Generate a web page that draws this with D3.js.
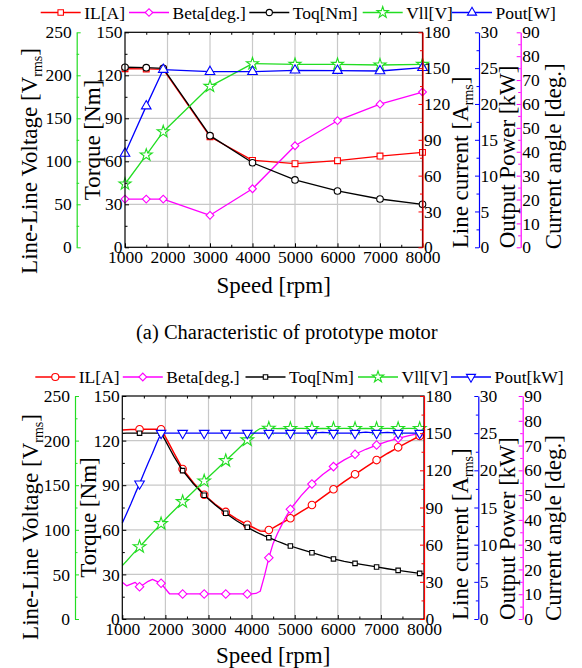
<!DOCTYPE html>
<html><head><meta charset="utf-8">
<script src="https://cdn.jsdelivr.net/npm/d3@7"></script>
<style>
body{margin:0;background:#fff}
svg{display:block}
text{font-family:"Liberation Serif","Times New Roman",serif;fill:#000}
</style>
</head><body>
<svg id="chart" width="582" height="668"></svg>
<script>
// ---------------- DATA ----------------
const speedTicks   = [1000,2000,3000,4000,5000,6000,7000,8000];
const torqueTicks  = [0,30,60,90,120,150];
const voltTicks    = [0,50,100,150,200,250];
const currentTicks = [0,30,60,90,120,150,180];
const powerTicks   = [0,5,10,15,20,25,30];
const angleTicks   = [0,10,20,30,40,50,60,70,80,90];

// (a) prototype motor
const speedA = [1000,1500,1900,3000,4000,5000,6000,7000,8000];
const ilA    = [149.5,149.3,149.0,92.6,72.8,70.0,72.5,76.4,79.5];
const betaA  = [20.2,20.2,20.2,13.4,24.5,42.5,53.0,59.9,65.0];
const toqA   = [125.6,125.3,124.9,77.9,59.0,47.0,39.3,33.7,30.0];
const vllA   = [73.6,107.3,134.4,187.2,213.5,212.8,212.8,212.0,212.8];
const poutA  = [13.1,19.7,24.8,24.5,24.5,24.7,24.65,24.6,25.06];
const namesA = ["IL[A]","Beta[deg.]","Toq[Nm]","Vll[V]","Pout[W]"];

// (b) second chart
const speedB = [1000,1100,1200,1300,1400,1500,1600,1700,1800,1900,2000,2100,2200,
                2400,2650,2900,3150,3400,3650,3900,
                4000,4100,4200,4300,4400,4500,4600,4700,4800,4900,
                5150,5400,5650,5900,6150,6400,6650,6900,7150,7400,7650,7900,8000];
const ilB   = [152.6,152.8,153.0,153.0,153.1,153.1,153.1,153.1,153.1,153.1,147.0,140.5,134.0,
               121.1,110.0,100.3,92.8,86.4,80.8,76.1,
               74.5,72.8,71.0,70.8,71.8,73.6,75.5,77.5,79.4,81.3,
               86.6,92.0,98.3,104.7,110.8,116.8,122.6,128.3,133.6,138.6,143.2,147.7,150.0];
const betaB = [14.8,13.4,14.1,14.8,13.0,14.0,15.2,16.0,15.2,14.4,12.2,10.1,10.1,
               10.1,10.1,10.1,10.1,10.1,10.1,10.1,
               10.1,10.3,11.2,17.5,24.7,30.5,34.5,38.0,41.3,44.3,
               49.8,54.5,58.3,61.5,64.2,66.5,68.5,70.2,71.7,72.9,74.0,74.9,75.4];
const toqB  = [124.8,125.0,125.0,125.0,125.0,125.0,125.0,125.0,125.0,125.0,120.0,114.5,109.2,
               99.8,91.0,83.2,76.8,71.1,66.1,61.7,
               60.1,58.6,57.2,55.9,54.7,53.5,52.3,51.2,50.1,49.1,
               46.8,44.6,42.4,40.4,38.8,37.4,36.2,35.0,33.8,32.7,31.7,30.7,30.4];
const vllB  = [59.8,65.0,70.5,75.8,81.0,86.0,91.3,96.5,101.6,106.8,111.8,116.8,121.6,
               131.5,143.0,154.7,166.0,177.5,189.0,200.7,
               205.5,210.5,213.5,213.8,213.8,213.6,213.5,213.6,213.5,213.5,
               213.6,213.5,213.7,213.5,213.6,213.5,213.7,213.5,213.6,213.5,213.6,213.5,213.6];
const poutB = [12.9,14.2,15.5,16.9,18.2,19.6,21.0,22.3,23.7,25.0,25.0,25.0,25.0,
               25.0,25.0,25.0,25.0,25.0,25.0,25.0,
               25.0,25.0,25.0,25.0,25.0,25.0,25.0,25.0,25.0,25.0,
               25.0,25.0,25.1,25.0,25.0,25.0,25.15,25.0,25.1,25.0,25.0,25.0,25.2];
const markerSpeedsB = [1400,1900,2400,2900,3400,3900,4400,4900,5400,5900,6400,6900,7400,7900];
const namesB = ["IL[A]","Beta[deg.]","Toq[Nm]","Vll[V]","Pout[kW]"];

const caption = "(a) Characteristic of prototype motor";

// ---------------- DRAWING ----------------
const svg = d3.select("#chart");
const C = {red:"#ff0000", mag:"#ff00ff", blk:"#000000", grn:"#22dd22", blu:"#0000ff"};
const TICKFS = 17.5, TITLEFS = 23, LEGFS = 17.5;

function symPath(type, size){
  const m = {square:d3.symbolSquare, circle:d3.symbolCircle, diamond:d3.symbolSquare,
             star:d3.symbolStar, triUp:d3.symbolTriangle, triDown:d3.symbolTriangle};
  return d3.symbol(m[type], size)();
}
function symRot(type){ return type==="diamond"?45:(type==="triDown"?180:0); }

function drawMarker(g, type, size, color, cx, cy){
  g.append("path").attr("d", symPath(type,size))
    .attr("transform", `translate(${cx},${cy}) rotate(${symRot(type)})`)
    .attr("fill", "#fff").attr("stroke", color).attr("stroke-width", 1.1);
}

function range(a,b,s){ const r=[]; for(let v=a; v<=b+1e-9; v+=s) r.push(+v.toFixed(4)); return r; }

function styleAxis(sel, color){
  sel.attr("font-family", null).attr("font-size", TICKFS);
  sel.selectAll("text").attr("fill", "#000");
  sel.selectAll(".tick line").attr("stroke", color).attr("stroke-width", 1);
  sel.select(".domain").attr("stroke", color).attr("stroke-width", 1.2);
}

function legend(y, starts, names, specs){
  const g = svg.append("g");
  names.forEach((n,i)=>{
    const x0 = starts[i], sp = specs[i];
    g.append("line").attr("x1",x0).attr("x2",x0+40).attr("y1",y).attr("y2",y)
      .attr("stroke",sp.color).attr("stroke-width",1.3);
    drawMarker(g, sp.marker, sp.size, sp.color, x0+20, y);
    g.append("text").attr("x",x0+43.5).attr("y",y).attr("dy","0.35em")
      .attr("font-size",LEGFS).text(n);
  });
}

function rotTitle(x, y, anchor, parts){
  const t = svg.append("text").attr("transform",`translate(${x},${y}) rotate(-90)`)
    .attr("text-anchor",anchor).attr("font-size",TITLEFS).attr("y","0.35em");
  parts.forEach(p=>{
    const ts = t.append("tspan").text(p.t);
    if(p.sub){ ts.attr("font-size",14).attr("dy",5); }
    if(p.back){ ts.attr("dy",-5); }
  });
}

function panel(cfg){
  const g = svg.append("g");
  const x  = d3.scaleLinear().domain([1000,8000]).range([cfg.L,cfg.R]);
  const yT = d3.scaleLinear().domain([0,150]).range([cfg.B,cfg.T]);
  const yV = d3.scaleLinear().domain([0,250]).range([cfg.B,cfg.T]);
  const yI = d3.scaleLinear().domain([0,180]).range([cfg.B,cfg.T]);
  const yP = d3.scaleLinear().domain([0,30]).range([cfg.B,cfg.T]);
  const yB = d3.scaleLinear().domain([0,90]).range([cfg.B,cfg.T]);
  const scales = {T:yT, V:yV, I:yI, P:yP, B:yB};

  // grid
  g.append("g").selectAll("line").data(speedTicks.slice(1,-1)).join("line")
    .attr("x1",d=>x(d)).attr("x2",d=>x(d)).attr("y1",cfg.T).attr("y2",cfg.B)
    .attr("stroke","#c8c8c8").attr("stroke-width",1.2);
  g.append("g").selectAll("line").data(torqueTicks.slice(1,-1)).join("line")
    .attr("y1",d=>yT(d)).attr("y2",d=>yT(d)).attr("x1",cfg.L).attr("x2",cfg.R)
    .attr("stroke","#c8c8c8").attr("stroke-width",1.2);

  // series
  cfg.series.forEach(s=>{
    const y = scales[s.axis];
    const pts = cfg.speed.map((sp,i)=>[sp, s.values[i]]);
    g.append("path").attr("d", d3.line().x(d=>x(d[0])).y(d=>y(d[1]))(pts))
      .attr("fill","none").attr("stroke",s.color).attr("stroke-width",s.width||1.3)
      .attr("stroke-linejoin","round");
    pts.forEach(p=>{
      if(!cfg.markerSpeeds || cfg.markerSpeeds.includes(p[0]))
        drawMarker(g, s.marker, s.size, s.color, x(p[0]), y(p[1]));
    });
  });

  // border
  g.append("rect").attr("x",cfg.L).attr("y",cfg.T).attr("width",cfg.R-cfg.L).attr("height",cfg.B-cfg.T)
    .attr("fill","none").attr("stroke","#000").attr("stroke-width",1.2);

  // x axis
  const xa = g.append("g").attr("transform",`translate(0,${cfg.B})`)
    .call(d3.axisBottom(x).tickValues(speedTicks).tickFormat(d3.format("d")).tickSizeInner(-4).tickSizeOuter(0).tickPadding(3.5));
  styleAxis(xa,"#000"); xa.select(".domain").remove();
  const xm = g.append("g").attr("transform",`translate(0,${cfg.B})`)
    .call(d3.axisBottom(x).tickValues(range(1500,7500,1000)).tickFormat("").tickSize(-2.5));
  styleAxis(xm,"#000"); xm.select(".domain").remove();
  const xt = g.append("g").attr("transform",`translate(0,${cfg.T})`)
    .call(d3.axisTop(x).tickValues(range(1500,7500,500)).tickFormat("").tickSize(-2.5));
  styleAxis(xt,"#000"); xt.select(".domain").remove();

  // torque axis (left border)
  const ta = g.append("g").attr("transform",`translate(${cfg.L},0)`)
    .call(d3.axisLeft(yT).tickValues(torqueTicks).tickSizeInner(-4).tickSizeOuter(0).tickPadding(2.5));
  styleAxis(ta,"#000"); ta.select(".domain").remove();
  const tm = g.append("g").attr("transform",`translate(${cfg.L},0)`)
    .call(d3.axisLeft(yT).tickValues(range(15,135,30)).tickFormat("").tickSize(-2.5));
  styleAxis(tm,"#000"); tm.select(".domain").remove();

  // voltage axis (green, far left)
  const va = g.append("g").attr("transform",`translate(${cfg.gx},0)`)
    .call(d3.axisLeft(yV).tickValues(voltTicks).tickSizeInner(-4).tickSizeOuter(0).tickPadding(5));
  styleAxis(va,C.grn);
  const vm = g.append("g").attr("transform",`translate(${cfg.gx},0)`)
    .call(d3.axisLeft(yV).tickValues(range(25,225,50)).tickFormat("").tickSize(-2.5));
  styleAxis(vm,C.grn); vm.select(".domain").remove();

  // current axis (red, plot right)
  const ia = g.append("g").attr("transform",`translate(${cfg.R},0)`)
    .call(d3.axisRight(yI).tickValues(currentTicks).tickSizeInner(-4).tickSizeOuter(0).tickPadding(1.5));
  styleAxis(ia,C.red);
  const im = g.append("g").attr("transform",`translate(${cfg.R},0)`)
    .call(d3.axisRight(yI).tickValues(range(15,165,30)).tickFormat("").tickSize(-2.5));
  styleAxis(im,C.red); im.select(".domain").remove();

  // power axis (blue)
  const pa = g.append("g").attr("transform",`translate(${cfg.bx},0)`)
    .call(d3.axisRight(yP).tickValues(powerTicks).tickSizeInner(-4).tickSizeOuter(0).tickPadding(1.5));
  styleAxis(pa,C.blu);
  const pm = g.append("g").attr("transform",`translate(${cfg.bx},0)`)
    .call(d3.axisRight(yP).tickValues(range(2.5,27.5,5)).tickFormat("").tickSize(-2.5));
  styleAxis(pm,C.blu); pm.select(".domain").remove();

  // angle axis (magenta)
  const aa = g.append("g").attr("transform",`translate(${cfg.mx},0)`)
    .call(d3.axisRight(yB).tickValues(angleTicks).tickSizeInner(-4).tickSizeOuter(0).tickPadding(1.5));
  styleAxis(aa,C.mag);
  const am = g.append("g").attr("transform",`translate(${cfg.mx},0)`)
    .call(d3.axisRight(yB).tickValues(range(5,85,10)).tickFormat("").tickSize(-2.5));
  styleAxis(am,C.mag); am.select(".domain").remove();

  // titles
  svg.append("text").attr("x",(cfg.L+cfg.R)/2).attr("y",cfg.B+cfg.speedDy).attr("dy","0.35em")
    .attr("text-anchor","middle").attr("font-size",TITLEFS).text("Speed [rpm]");
  rotTitle(cfg.vTitleX, cfg.vTitleY, "middle", [{t:"Line-Line Voltage [V"},{t:"rms",sub:true},{t:"]",back:true}]);
  rotTitle(cfg.tTitleX, cfg.tTitleY, "middle", [{t:"Torque [Nm]"}]);
  rotTitle(460, cfg.B+1, "start", [{t:"Line current [A"},{t:"rms",sub:true},{t:"]",back:true}]);
  rotTitle(506.5, cfg.B+1, "start", [{t:"Output Power [kW]"}]);
  rotTitle(553, cfg.B+2, "start", [{t:"Current angle [deg.]"}]);
}

// panel (a)
panel({
  L:125, R:422.5, T:32.3, B:247.3, gx:76.7, bx:479, mx:520.7,
  speed: speedA, speedDy:37.7,
  vTitleX:29, vTitleY:161, tTitleX:91.7, tTitleY:140,
  series:[
    {values:ilA,   axis:"I", color:C.red, marker:"square",  size:34},
    {values:betaA, axis:"B", color:C.mag, marker:"diamond", size:30},
    {values:toqA,  axis:"T", color:C.blk, marker:"circle",  size:34},
    {values:vllA,  axis:"V", color:C.grn, marker:"star",    size:45},
    {values:poutA, axis:"P", color:C.blu, marker:"triUp",   size:40}
  ]
});
legend(12.5, [40.7,129,249.3,362.7,452], namesA, [
  {color:C.red, marker:"square", size:30},{color:C.mag, marker:"diamond", size:28},
  {color:C.blk, marker:"circle", size:30},{color:C.grn, marker:"star", size:40},
  {color:C.blu, marker:"triUp", size:36}]);

svg.append("text").attr("x",136).attr("y",331.7).attr("dy","0.35em")
  .attr("font-size",20.5).text(caption);

// panel (b)
panel({
  L:122.3, R:424, T:396, B:619, gx:75, bx:478.3, mx:522.7,
  speed: speedB, markerSpeeds: markerSpeedsB, speedDy:36,
  vTitleX:30, vTitleY:527, tTitleX:88.3, tTitleY:517.5,
  series:[
    {values:ilB,   axis:"I", color:C.red, marker:"circle",  size:45, width:1.5},
    {values:betaB, axis:"B", color:C.mag, marker:"diamond", size:36},
    {values:toqB,  axis:"T", color:C.blk, marker:"square",  size:20},
    {values:vllB,  axis:"V", color:C.grn, marker:"star",    size:50},
    {values:poutB, axis:"P", color:C.blu, marker:"triDown", size:40}
  ]
});
legend(377, [35.3,122.8,245.5,358,451], namesB, [
  {color:C.red, marker:"circle", size:40},{color:C.mag, marker:"diamond", size:30},
  {color:C.blk, marker:"square", size:20},{color:C.grn, marker:"star", size:40},
  {color:C.blu, marker:"triDown", size:36}]);
</script>
</body></html>
